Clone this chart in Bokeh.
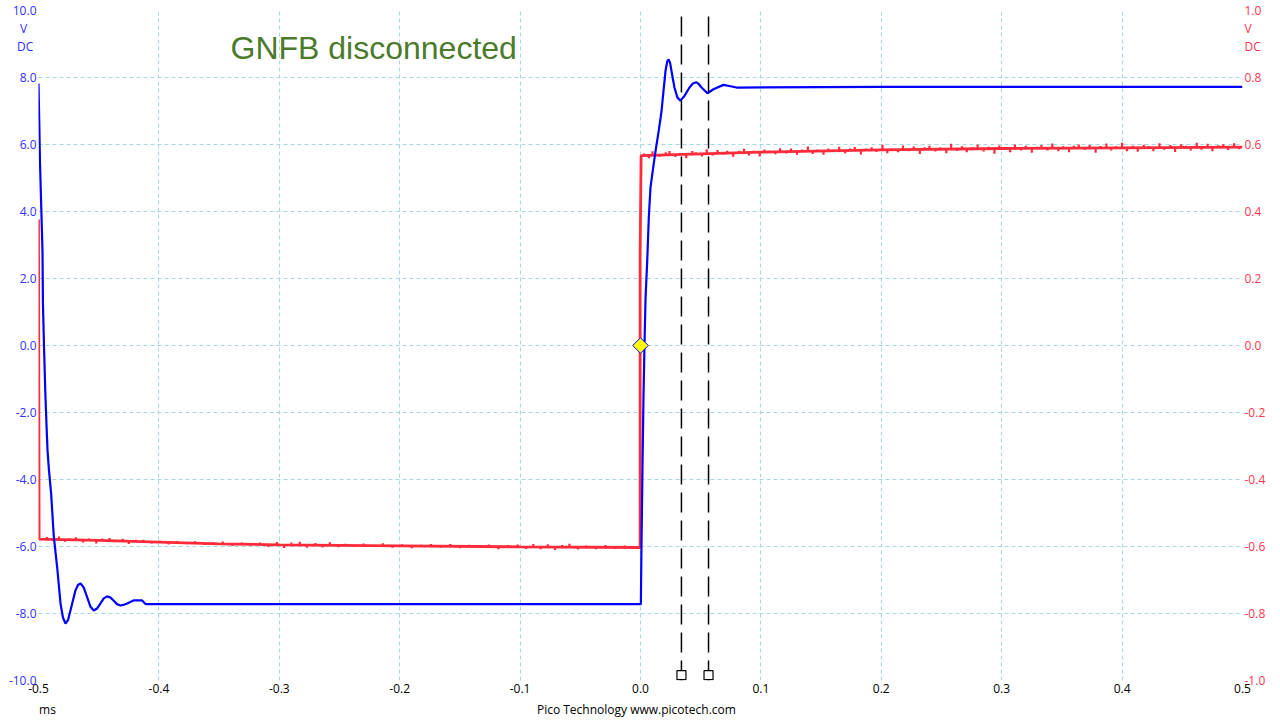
import numpy as np
from bokeh.plotting import figure
from bokeh.models import Range1d, LinearAxis, FixedTicker, PrintfTickFormatter, Label
from bokeh.embed import file_html
from bokeh.resources import INLINE

# ---------------- data ----------------
x_ticks = [-0.5, -0.4, -0.3, -0.2, -0.1, 0.0, 0.1, 0.2, 0.3, 0.4, 0.5]
left_ticks = [-10.0, -8.0, -6.0, -4.0, -2.0, 0.0, 2.0, 4.0, 6.0, 8.0, 10.0]
right_ticks = [-1.0, -0.8, -0.6, -0.4, -0.2, 0.0, 0.2, 0.4, 0.6, 0.8, 1.0]

# Channel A (blue, left axis, V) vs time (ms)
blue_t = [-0.5, -0.4994, -0.4988, -0.4978, -0.4967, -0.4963, -0.4954, -0.4944, -0.4934, -0.4925,
          -0.4913, -0.4895, -0.4873, -0.4845, -0.4817, -0.4797, -0.4776, -0.4755, -0.4734, -0.4693,
          -0.4672, -0.4651, -0.4625, -0.4596, -0.4568, -0.4541, -0.4513, -0.4485, -0.4458, -0.4430,
          -0.4404, -0.4377, -0.4348, -0.4319, -0.4291, -0.4264, -0.4211, -0.4139, -0.4111, -0.3,
          -0.2, -0.1, 0.0, 0.0003, 0.0008, 0.0017, 0.0025, 0.0033, 0.0042, 0.0056,
          0.0069, 0.0083, 0.011, 0.013, 0.0152, 0.0175, 0.0191, 0.0208, 0.0222, 0.0233,
          0.0245, 0.0257, 0.0282, 0.0307, 0.0332, 0.0365, 0.0407, 0.0435, 0.0463, 0.0485,
          0.0507, 0.0556, 0.0606, 0.0689, 0.0748, 0.0797, 0.2, 0.35, 0.5]
blue_v = [7.82, 6.72, 5.52, 4.24, 2.84, 1.25, -0.06, -1.34, -2.33, -3.13,
          -3.73, -4.42, -5.7, -6.62, -7.7, -8.12, -8.3, -8.2, -7.9, -7.31,
          -7.15, -7.1, -7.22, -7.51, -7.8, -7.91, -7.85, -7.7, -7.55, -7.49,
          -7.52, -7.61, -7.72, -7.76, -7.74, -7.7, -7.61, -7.61, -7.72, -7.72,
          -7.72, -7.72, -7.72, -7.72, -6.0, -3.5, -1.5, 0.0, 1.43, 2.54,
          3.83, 4.72, 5.43, 5.92, 6.42, 7.0, 7.6, 8.2, 8.48, 8.54,
          8.45, 8.2, 7.7, 7.4, 7.31, 7.45, 7.7, 7.82, 7.86, 7.8,
          7.7, 7.53, 7.65, 7.78, 7.74, 7.7, 7.72, 7.72, 7.72]

# Channel B (red, right axis, V)
red_start_v = 0.376
red_lo_t = [-0.4995, -0.45, -0.4, -0.35, -0.3, -0.2, -0.1, -0.0003]
red_lo_v = [-0.578, -0.582, -0.587, -0.592, -0.595, -0.598, -0.601, -0.603]
red_edge_v = 0.275
red_hi_t = [0.0005, 0.05, 0.1, 0.2, 0.3, 0.4, 0.5]
red_hi_v = [0.567, 0.572, 0.577, 0.584, 0.588, 0.590, 0.592]

red_lo_noise_t = [-0.493, -0.488, -0.483, -0.478, -0.474, -0.469, -0.463, -0.458, -0.452, -0.447,
                  -0.441, -0.436, -0.43, -0.425, -0.419, -0.413, -0.406, -0.399, -0.392, -0.385,
                  -0.377, -0.37, -0.362, -0.355, -0.347, -0.339, -0.331, -0.324, -0.316, -0.309,
                  -0.302, -0.296, -0.29, -0.283, -0.277, -0.27, -0.264, -0.258, -0.251, -0.245,
                  -0.238, -0.23, -0.222, -0.214, -0.206, -0.198, -0.19, -0.182, -0.174, -0.166,
                  -0.158, -0.15, -0.142, -0.134, -0.126, -0.118, -0.11, -0.102, -0.095, -0.089,
                  -0.083, -0.077, -0.071, -0.065, -0.059, -0.052, -0.045, -0.037, -0.029, -0.021,
                  -0.013, -0.006]
red_lo_noise_dv = [0.007, -0.005, 0.009, -0.006, 0.004, 0.008, -0.007, 0.005, -0.009, 0.006,
                   0.008, -0.004, 0.007, -0.008, 0.005, 0.006, -0.005, 0.004, -0.006, 0.005,
                   -0.004, 0.006, -0.005, 0.004, 0.007, -0.006, 0.005, -0.004, 0.006, -0.007,
                   0.008, -0.009, 0.007, 0.01, -0.008, 0.006, -0.007, 0.009, -0.006, 0.005,
                   -0.005, 0.006, -0.004, 0.007, -0.006, 0.005, -0.007, 0.004, 0.006, -0.005,
                   0.007, -0.006, 0.005, -0.004, 0.006, -0.008, 0.005, 0.007, -0.006, 0.009,
                   -0.007, 0.008, -0.009, 0.006, 0.01, -0.007, 0.005, -0.006, 0.007, -0.005,
                   0.006, -0.004]
red_hi_noise_t = [0.003, 0.007, 0.01, 0.016, 0.021, 0.024, 0.029, 0.033, 0.038, 0.043,
                  0.046, 0.051, 0.055, 0.06, 0.064, 0.069, 0.072, 0.077, 0.082, 0.086,
                  0.09, 0.094, 0.099, 0.103, 0.107, 0.112, 0.116, 0.121, 0.125, 0.13,
                  0.134, 0.139, 0.143, 0.147, 0.152, 0.156, 0.161, 0.165, 0.17, 0.174,
                  0.178, 0.183, 0.187, 0.192, 0.196, 0.201, 0.205, 0.209, 0.214, 0.218,
                  0.223, 0.227, 0.232, 0.236, 0.24, 0.245, 0.249, 0.254, 0.258, 0.263,
                  0.267, 0.271, 0.276, 0.28, 0.285, 0.289, 0.294, 0.298, 0.302, 0.307,
                  0.311, 0.316, 0.32, 0.325, 0.329, 0.333, 0.338, 0.342, 0.347, 0.351,
                  0.356, 0.36, 0.364, 0.369, 0.373, 0.378, 0.382, 0.387, 0.391, 0.395,
                  0.4, 0.404, 0.409, 0.413, 0.418, 0.422, 0.426, 0.431, 0.435, 0.44,
                  0.444, 0.449, 0.453, 0.457, 0.462, 0.466, 0.471, 0.475, 0.48, 0.484,
                  0.488, 0.493, 0.497]
red_hi_noise_dv = [0.006, -0.009, 0.012, -0.005, 0.008, 0.011, -0.007, 0.004, -0.012, 0.009,
                   0.005, -0.008, 0.013, -0.006, 0.01, -0.004, 0.007, -0.011, 0.006, 0.012,
                   -0.009, 0.005, -0.013, 0.008, 0.004, -0.007, 0.011, -0.005, 0.009, -0.01,
                   0.006, 0.014, -0.008, 0.005, -0.011, 0.007, -0.004, 0.012, -0.009, 0.006,
                   0.01, -0.013, 0.005, 0.008, -0.006, 0.015, -0.01, 0.004, -0.008, 0.012,
                   -0.005, 0.009, -0.014, 0.006, 0.011, -0.007, 0.005, -0.012, 0.016, -0.006,
                   0.008, -0.01, 0.005, 0.013, -0.008, 0.006, -0.015, 0.009, 0.004, -0.011,
                   0.012, -0.006, 0.008, -0.013, 0.005, 0.01, -0.007, 0.014, -0.009, 0.006,
                   -0.012, 0.007, 0.011, -0.005, 0.009, -0.014, 0.006, 0.013, -0.008, 0.005,
                   0.015, -0.01, 0.006, -0.012, 0.009, 0.004, -0.011, 0.013, -0.006, 0.008,
                   -0.013, 0.01, 0.005, -0.009, 0.014, -0.007, 0.011, -0.012, 0.006, 0.009,
                   -0.008, 0.012, -0.006]

cursor_t = [0.034, 0.0565]
trigger_t = [0.0]
trigger_v = [0.0]

title_text = "GNFB disconnected"
footer_text = "Pico Technology  www.picotech.com"
x_unit = "ms"
unit_labels = ["V", "DC"]
# positions of the unit texts under the top tick label (left scale value, right scale value)
unit_left_pos = [9.46, 8.92]
unit_right_pos = [0.946, 0.892]
footer_pos = [-0.4925, -0.0021]

# ---------------- styling ----------------
BLUE = "#0000ff"
RED = "#ff2a3a"
LBL_BLUE = "#3030ff"
LBL_RED = "#ff3550"
GRID = "#a9d6e3"
FONT = "Open Sans"
FS = "12px"
NB = "\u00a0"

p = figure(width=1280, height=720, x_range=Range1d(-0.5, 0.5), y_range=Range1d(-10, 10),
           output_backend="svg", toolbar_location=None,
           min_border_left=38, min_border_right=38, min_border_top=10, min_border_bottom=40)
p.outline_line_color = None
p.background_fill_color = "white"
p.border_fill_color = "white"

p.extra_y_ranges = {"b": Range1d(-1, 1)}

# grids
p.xgrid.ticker = FixedTicker(ticks=x_ticks)
p.ygrid.ticker = FixedTicker(ticks=left_ticks)
for g in (p.xgrid, p.ygrid):
    g.grid_line_color = GRID
    g.grid_line_dash = "4 3"
    g.grid_line_width = 1

# axes
xa = p.xaxis[0]
xa.ticker = FixedTicker(ticks=x_ticks)
xa.formatter = PrintfTickFormatter(format="%.1f")

ya = p.yaxis[0]
ya.ticker = FixedTicker(ticks=left_ticks + unit_left_pos)
ya.formatter = PrintfTickFormatter(format="%.1f")
ya.major_label_overrides = {unit_left_pos[0]: unit_labels[0] + NB * 3,
                            unit_left_pos[1]: unit_labels[1] + NB * 1}

ra = LinearAxis(y_range_name="b", ticker=FixedTicker(ticks=right_ticks + unit_right_pos),
                formatter=PrintfTickFormatter(format="%.1f"))
ra.major_label_overrides = {unit_right_pos[0]: unit_labels[0], unit_right_pos[1]: unit_labels[1]}
p.add_layout(ra, "right")

fa = LinearAxis(ticker=FixedTicker(ticks=footer_pos))
fa.major_label_overrides = {footer_pos[0]: x_unit, footer_pos[1]: footer_text}
p.add_layout(fa, "below")

for ax, col in ((xa, "#000000"), (ya, LBL_BLUE), (ra, LBL_RED), (fa, "#000000")):
    ax.axis_line_color = None
    ax.major_tick_line_color = None
    ax.minor_tick_line_color = None
    ax.major_tick_out = 0
    ax.major_tick_in = 0
    ax.minor_tick_out = 0
    ax.minor_tick_in = 0
    ax.major_label_text_color = col
    ax.major_label_text_font = FONT
    ax.major_label_text_font_size = FS
    ax.major_label_standoff = 2
xa.major_label_standoff = 3
fa.major_label_standoff = 5

# red trace
red_t = [-0.5] + red_lo_t + [red_lo_t[-1]] + red_hi_t
red_v = [red_start_v] + red_lo_v + [red_edge_v] + red_hi_v
p.line(red_t, red_v, y_range_name="b", line_color=RED, line_width=2.8)

lo_base = np.interp(red_lo_noise_t, red_lo_t, red_lo_v)
hi_base = np.interp(red_hi_noise_t, red_hi_t, red_hi_v)
p.segment(x0=red_lo_noise_t, y0=lo_base, x1=red_lo_noise_t, y1=lo_base + np.array(red_lo_noise_dv),
          y_range_name="b", line_color=RED, line_width=2.2)
p.segment(x0=red_hi_noise_t, y0=hi_base, x1=red_hi_noise_t, y1=hi_base + np.array(red_hi_noise_dv),
          y_range_name="b", line_color=RED, line_width=2.2)

# blue trace
p.line(blue_t, blue_v, line_color=BLUE, line_width=2.2)

# cursors
for ct in cursor_t:
    p.segment(x0=[ct], y0=[-10], x1=[ct], y1=[10], line_color="black", line_width=1.5, line_dash="20 8")
p.scatter(cursor_t, [-9.84, -9.84], marker="square", size=9, fill_color="white", line_color="black", line_width=1.2)

# trigger marker
p.scatter(trigger_t, trigger_v, marker="square", angle=np.pi / 4, size=11, fill_color="#ffff00",
          line_color=BLUE, line_width=1)

# title
p.add_layout(Label(x=-0.3405, y=8.87, text=title_text, text_font="Liberation Sans", text_font_size="32px",
                   text_color="#4b7a2b", text_baseline="middle", text_align="left"))

open("out.html", "w").write(file_html(p, INLINE))
